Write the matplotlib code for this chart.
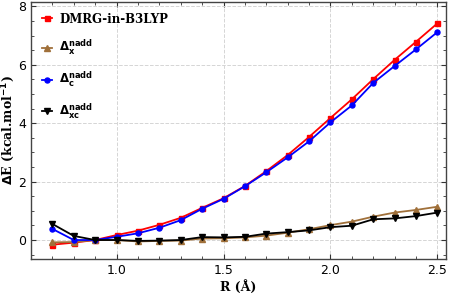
import matplotlib
matplotlib.use('Agg')
import matplotlib.pyplot as plt
import numpy as np
from matplotlib.ticker import MultipleLocator

# bond distance (Angstrom)
r = [0.7, 0.8, 0.9, 1.0, 1.1, 1.2, 1.3, 1.4, 1.5, 1.6,
     1.7, 1.8, 1.9, 2.0, 2.1, 2.2, 2.3, 2.4, 2.5]

dmrg = [-0.16, -0.09, 0.0, 0.17, 0.32, 0.52, 0.76, 1.10, 1.43, 1.85,
        2.36, 2.91, 3.53, 4.18, 4.82, 5.51, 6.17, 6.79, 7.42]
d_x = [-0.08, -0.07, 0.0, 0.0, -0.05, -0.03, -0.02, 0.05, 0.06, 0.09,
       0.15, 0.25, 0.37, 0.51, 0.63, 0.80, 0.94, 1.03, 1.14]
d_c = [0.38, 0.0, 0.0, 0.11, 0.23, 0.42, 0.68, 1.07, 1.41, 1.84,
       2.32, 2.83, 3.38, 4.03, 4.61, 5.38, 5.96, 6.53, 7.12]
d_xc = [0.55, 0.14, 0.0, 0.0, -0.03, -0.02, 0.0, 0.10, 0.09, 0.11,
        0.22, 0.27, 0.33, 0.44, 0.49, 0.71, 0.74, 0.82, 0.94]

fig = plt.figure(figsize=(4.49, 2.97), dpi=100)
ax = fig.add_axes([31/449, 38/297, 415/449, 257/297])

ax.plot(r, dmrg, '-s', color='red', ms=3.6, lw=1.3, label='DMRG-in-B3LYP')
ax.plot(r, d_x, '-^', color='#a0703a', ms=3.8, lw=1.3,
        label=r'$\mathbf{\Delta_x^{nadd}}$')
ax.plot(r, d_c, '-o', color='blue', ms=3.6, lw=1.3,
        label=r'$\mathbf{\Delta_c^{nadd}}$')
ax.plot(r, d_xc, '-v', color='black', ms=3.8, lw=1.3,
        label=r'$\mathbf{\Delta_{xc}^{nadd}}$')

ax.set_xlim(0.6, 2.54)
ax.set_ylim(-0.65, 8.15)
ax.xaxis.set_major_locator(MultipleLocator(0.5))
ax.xaxis.set_minor_locator(MultipleLocator(0.1))
ax.yaxis.set_major_locator(MultipleLocator(2))
ax.yaxis.set_minor_locator(MultipleLocator(0.5))
ax.xaxis.set_major_formatter(matplotlib.ticker.FormatStrFormatter('%.1f'))
ax.tick_params(which='both', direction='in', top=True, right=True,
               labelsize=9, colors='#333333', labelcolor='black')
ax.tick_params(which='major', length=3.5)
ax.tick_params(which='minor', length=2)
ax.grid(True, which='major', ls='--', color='#d5d5d5', lw=0.7)
for s in ax.spines.values():
    s.set_color('#444444')
    s.set_linewidth(1.0)

ax.set_xlabel('R (Å)', fontfamily='DejaVu Serif', fontweight='bold',
              fontsize=9, labelpad=2)
ax.set_ylabel(r'$\mathbf{\Delta}$E (kcal.mol$^{\mathbf{-1}}$)',
              fontfamily='DejaVu Serif', fontweight='bold', fontsize=9,
              labelpad=1)

ax.legend(frameon=False, loc='upper left',
          prop={'family': 'DejaVu Serif', 'weight': 'bold', 'size': 8.5},
          labelspacing=1.05, handlelength=0.9, handletextpad=0.6,
          borderaxespad=0.5)

plt.savefig('out.png', dpi=100)
